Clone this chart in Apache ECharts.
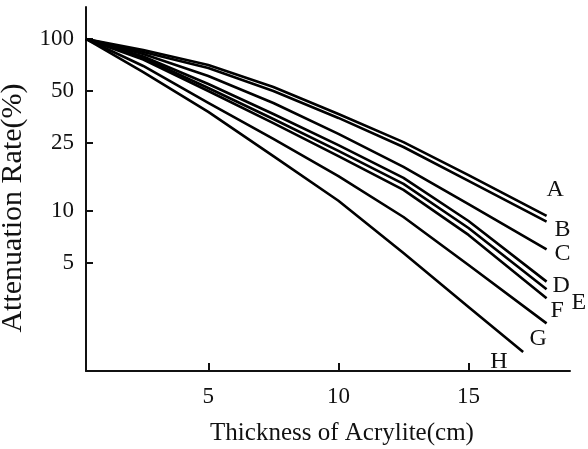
<!DOCTYPE html>
<html>
<head>
<meta charset="utf-8">
<script src="https://cdn.jsdelivr.net/npm/echarts@6/dist/echarts.min.js"></script>
<style>
  html, body { margin: 0; padding: 0; background: #fff; }
  #chart { width: 588px; height: 449px; }
</style>
</head>
<body>
<div id="chart"></div>
<script>
// thickness (cm)
const thickness = [0.3, 2.5, 5, 7.5, 10, 12.5, 15, 18]
const thicknessH = [0.3, 2.5, 5, 7.5, 10, 12.5, 15, 17.1]

// attenuation rate (%)
const rateA = [100, 86.3, 70.6, 52.6, 36.7, 25.2, 16.2, 9.4]
const rateB = [100, 84.0, 67.9, 49.9, 34.8, 23.6, 15.0, 8.7]
const rateC = [100, 81.8, 61.0, 42.5, 28.1, 18.1, 11.0, 6.0]
const rateD = [100, 79.1, 54.8, 36.7, 24.2, 15.6, 8.77, 3.9]
const rateE = [100, 77.6, 51.9, 34.3, 22.4, 14.4, 7.99, 3.52]
const rateF = [100, 76.0, 49.9, 32.5, 20.9, 13.3, 7.28, 3.12]
const rateG = [100, 69.7, 42.5, 26.3, 16.0, 9.25, 4.87, 2.23]
const rateH = [100, 64.3, 37.7, 20.9, 11.5, 5.72, 2.78, 1.52]

const yTicks = [5, 10, 25, 50, 100]
const xTicks = [5, 10, 15]

const lines = [
  { name: 'A', x: thickness, y: rateA, offset: [-8, -26] },
  { name: 'B', x: thickness, y: rateB, offset: [0, 8] },
  { name: 'C', x: thickness, y: rateC, offset: [0, 4] },
  { name: 'D', x: thickness, y: rateD, offset: [-2, 4] },
  { name: 'E', x: thickness, y: rateE, offset: [17, 13] },
  { name: 'F', x: thickness, y: rateF, offset: [-4, 12] },
  { name: 'G', x: thickness, y: rateG, offset: [-25, 15] },
  { name: 'H', x: thicknessH, y: rateH, offset: [-41, 10] },
]

const font = '"Liberation Serif", "DejaVu Serif", serif'

let option = {
  animation: false,
  backgroundColor: '#fff',
  grid: {
    left: 86,
    right: 18,
    top: 7,
    bottom: 78,
    containLabel: false,
    outerBoundsMode: 'none',
  },
  xAxis: {
    type: 'value',
    min: 0.3,
    max: 18.9,
    name: 'Thickness of Acrylite(cm)',
    nameLocation: 'middle',
    nameGap: 50,
    nameTextStyle: { fontFamily: font, fontSize: 25, color: '#111', padding: [0, 0, 0, 28] },
    axisLine: { lineStyle: { color: '#111', width: 2 } },
    axisTick: { inside: true, length: 8, lineStyle: { color: '#111', width: 2 }, customValues: xTicks },
    axisLabel: { fontFamily: font, fontSize: 23, color: '#111', margin: 14, customValues: xTicks },
    splitLine: { show: false },
  },
  yAxis: {
    type: 'log',
    min: 1.18,
    max: 153.4,
    name: 'Attenuation Rate(%)',
    nameLocation: 'middle',
    nameGap: 48,
    nameTextStyle: { fontFamily: font, fontSize: 30, color: '#111', padding: [0, 38, 0, 0] },
    axisLine: { lineStyle: { color: '#111', width: 2 } },
    axisTick: { inside: true, length: 7, lineStyle: { color: '#111', width: 2 }, customValues: yTicks },
    axisLabel: { fontFamily: font, fontSize: 23, color: '#111', margin: 12, customValues: yTicks },
    splitLine: { show: false },
    minorTick: { show: false },
  },
  series: lines.map((l) => ({
    name: l.name,
    type: 'line',
    symbol: 'none',
    smooth: false,
    data: l.x.map((x, i) => [x, l.y[i]]),
    lineStyle: { color: '#000', width: 2.6, join: 'round' },
    endLabel: {
      show: true,
      formatter: '{a}',
      offset: l.offset,
      fontFamily: font,
      fontSize: 24,
      color: '#111',
    },
  })),
}

const dom = document.getElementById('chart')
const chart = echarts.init(dom)
chart.setOption(option)
</script>
</body>
</html>
